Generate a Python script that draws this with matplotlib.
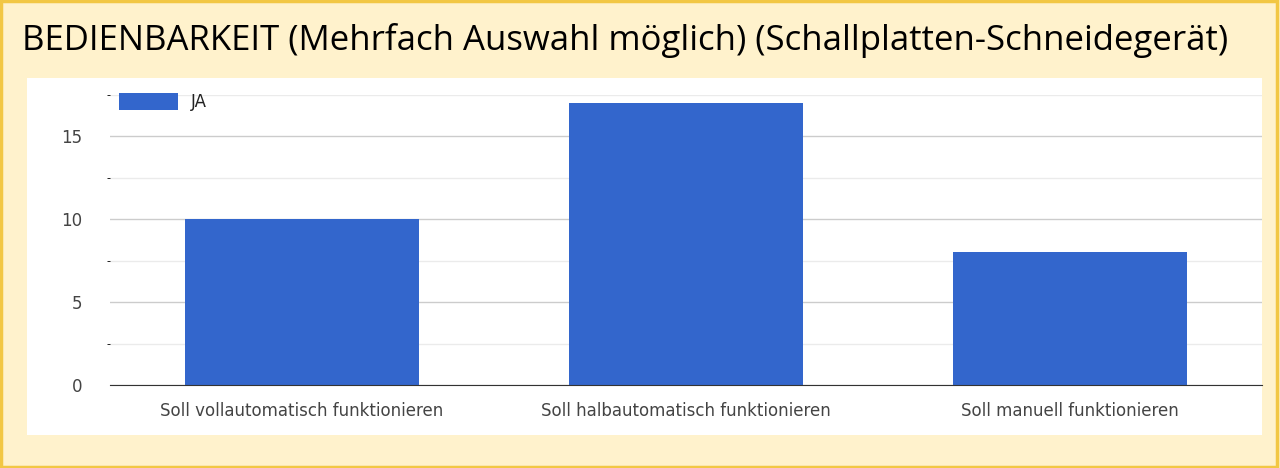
import matplotlib.pyplot as plt
from matplotlib.patches import Rectangle

categories = ['Soll vollautomatisch funktionieren', 'Soll halbautomatisch funktionieren', 'Soll manuell funktionieren']
ja_values = [10, 17, 8]

fig = plt.figure(figsize=(12.8, 4.68), dpi=100)
fig.patch.set_facecolor('#FFF2CC')
# gold border and white chart panel
fig.add_artist(Rectangle((0.001, 0.002), 0.997, 0.995, transform=fig.transFigure,
                         fill=False, edgecolor='#F2C744', linewidth=2.5))
fig.add_artist(Rectangle((27/1280, 1-435/468), 1235/1280, 357/468, transform=fig.transFigure,
                         facecolor='white', edgecolor='none', zorder=0))
fig.text(22/1280, 1-40/468, 'BEDIENBARKEIT (Mehrfach Auswahl möglich) (Schallplatten-Schneidegerät)',
         fontsize=25, family='Open Sans', va='center', ha='left')

ax = fig.add_axes([110/1280, 1-385/468, 1152/1280, 290/468])
ax.set_facecolor('none')
ax.bar(range(len(categories)), ja_values, width=0.61, color='#3366CC', label='JA', zorder=2)
ax.set_xlim(-0.5, 2.5)
ax.set_ylim(0, 17.5)
ax.set_yticks([0, 5, 10, 15])
ax.set_yticks([2.5, 7.5, 12.5, 17.5], minor=True)
ax.grid(axis='y', which='major', color='#CCCCCC', linewidth=1, zorder=0)
ax.grid(axis='y', which='minor', color='#EBEBEB', linewidth=1, zorder=0)
ax.set_xticks(range(len(categories)))
ax.set_xticklabels(categories)
ax.tick_params(axis='both', length=0, labelsize=12, colors='#444444', pad=12)
ax.tick_params(axis='y', pad=20)
for s in ['top', 'right', 'left']:
    ax.spines[s].set_visible(False)
ax.spines['bottom'].set_color('#333333')
ax.legend(loc='upper left', bbox_to_anchor=(-0.005, 1.06), frameon=False, fontsize=12,
          handlelength=3.5, handleheight=1.2, labelcolor='#222222')

fig.savefig('out.png', dpi=100, facecolor=fig.get_facecolor())
